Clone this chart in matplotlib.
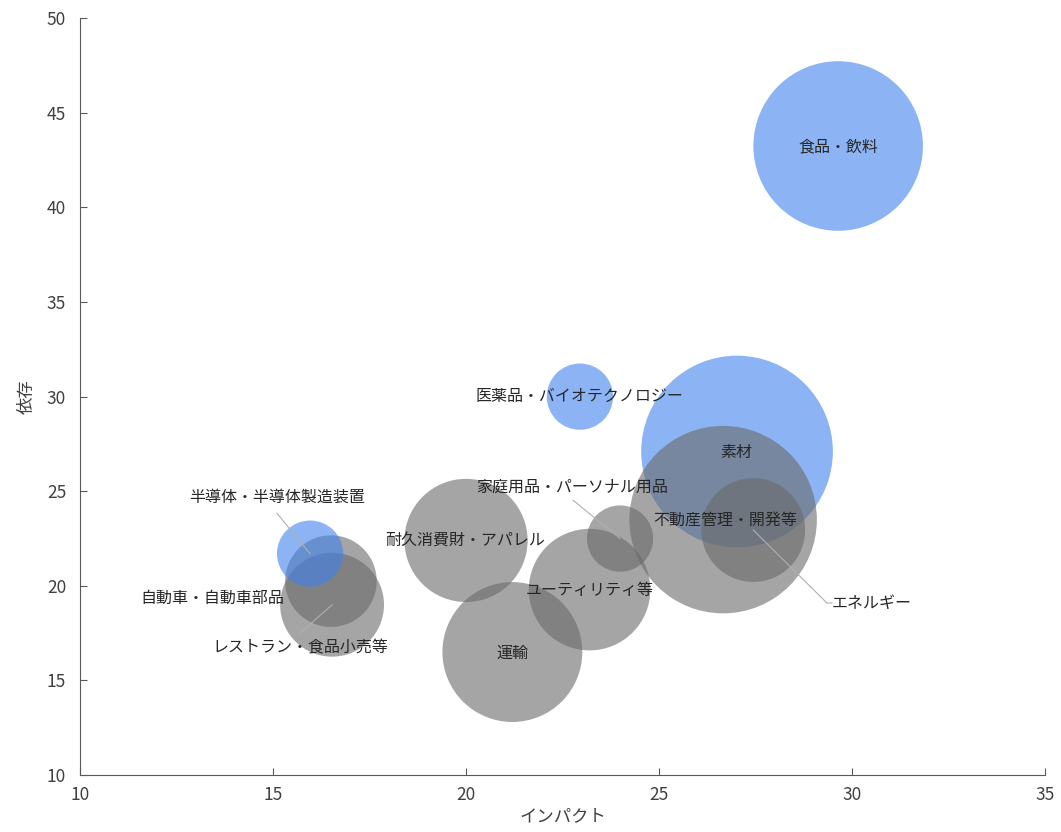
import matplotlib.pyplot as plt

plt.rcParams['font.family'] = ['Noto Sans CJK JP', 'DejaVu Sans']

# sectors: impact (x), dependency (y), bubble size, group
names = ['食品・飲料', '素材', '医薬品・バイオテクノロジー', '不動産管理・開発等', 'エネルギー',
         '家庭用品・パーソナル用品', '耐久消費財・アパレル', 'ユーティリティ等', '運輸',
         '自動車・自動車部品', 'レストラン・食品小売等', '半導体・半導体製造装置']
impact = [29.64, 27.02, 22.95, 26.66, 27.44, 23.99, 20.0, 23.2, 21.2, 16.5, 16.53, 15.96]
dependency = [43.25, 27.1, 30.0, 23.5, 22.95, 22.5, 22.4, 19.8, 16.5, 20.25, 19.0, 21.7]
bubble = [72, 92, 11, 88, 27, 11, 38, 37, 49, 21, 27, 11]
highlight = [True, True, True, False, False, False, False, False, False, False, False, True]

# label placement: (x, y, ha, leader start) in data coords
label_pos = {
    '食品・飲料': (29.64, 43.2, 'center', None),
    '素材': (27.0, 27.06, 'center', None),
    '医薬品・バイオテクノロジー': (22.95, 30.0, 'center', None),
    '不動産管理・開発等': (26.71, 23.47, 'center', None),
    'エネルギー': (29.48, 19.09, 'left', (29.35, 19.09)),
    '家庭用品・パーソナル用品': (22.75, 25.21, 'center', (22.77, 24.53)),
    '耐久消費財・アパレル': (19.97, 22.41, 'center', None),
    'ユーティリティ等': (23.21, 19.77, 'center', None),
    '運輸': (21.19, 16.44, 'center', None),
    '自動車・自動車部品': (13.42, 19.35, 'center', None),
    'レストラン・食品小売等': (15.7, 16.71, 'center', (15.7, 17.5)),
    '半導体・半導体製造装置': (15.1, 24.69, 'center', (15.1, 23.84)),
}

fig = plt.figure(figsize=(10.61, 8.32), dpi=100)
ax = fig.add_axes([0.0754, 0.0685, 0.9096, 0.9095])

for i, name in enumerate(names):
    color = '#3f82ee' if highlight[i] else '#696969'
    ax.scatter(impact[i], dependency[i], s=bubble[i] * 207, color=color, alpha=0.6,
               edgecolors='none', zorder=2)

for i, name in enumerate(names):
    lx, ly, ha, lead = label_pos[name]
    if lead is not None:
        if name == 'エネルギー':
            ax.plot([impact[i], lead[0], lx], [dependency[i], lead[1], ly],
                    color='#b0b0b0', lw=0.8, zorder=3)
        else:
            # leader goes toward the bubble centre
            ax.plot([lead[0], impact[i]], [lead[1], dependency[i]],
                    color='#b0b0b0', lw=0.8, zorder=3)
    ax.text(lx, ly, name, ha=ha, va='center', fontsize=11.5, color='#262626', zorder=4)

ax.set_xlim(10, 35)
ax.set_ylim(10, 50)
ax.set_xticks([10, 15, 20, 25, 30, 35])
ax.set_yticks([10, 15, 20, 25, 30, 35, 40, 45, 50])
ax.tick_params(direction='in', length=5, color='#595959', labelsize=12.5, labelcolor='#404040')
ax.tick_params(axis='x', pad=8)
ax.tick_params(axis='y', pad=10)
ax.spines['top'].set_visible(False)
ax.spines['right'].set_visible(False)
ax.spines['left'].set_color('#595959')
ax.spines['bottom'].set_color('#595959')
ax.set_xlabel('インパクト', fontsize=12.5, color='#404040', labelpad=2)
ax.set_ylabel('依存', fontsize=12.5, color='#404040', labelpad=8)

fig.savefig('out.png', dpi=100)
